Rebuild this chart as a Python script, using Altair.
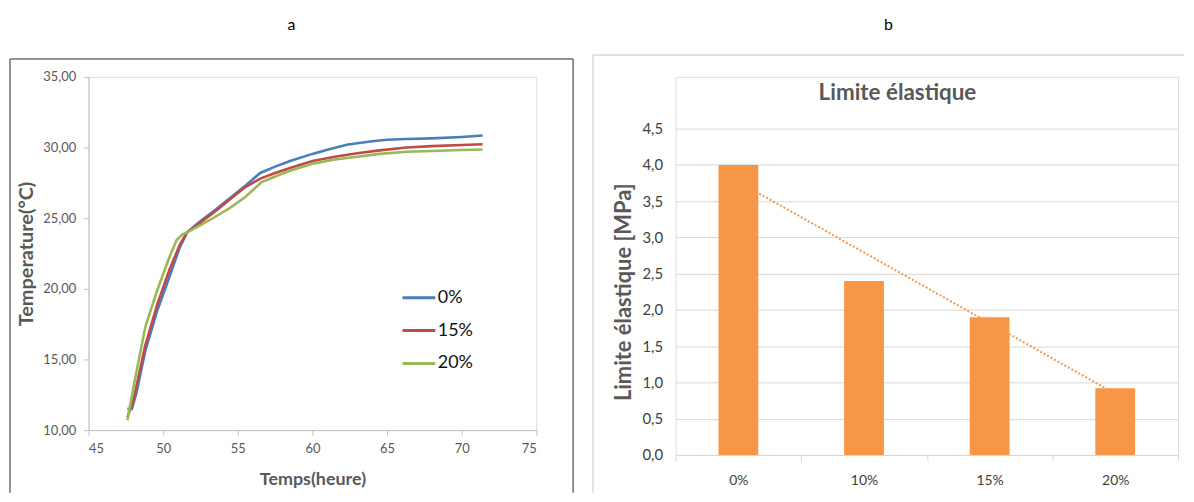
import altair as alt
import pandas as pd
import numpy as np

FONT = "Lato"

# ---------------- Panel a : temperature curves ----------------
t_0 = [47.6, 47.9, 48.2, 48.8, 49.6, 50.4, 51.1, 51.6, 52.5, 53.5, 54.5, 55.5, 56.5, 57.5, 58.5,
       60.0, 61.0, 62.3, 63.0, 64.0, 65.0, 66.3, 68.0, 70.0, 71.4]
T_0 = [11.5, 11.5, 12.6, 15.6, 18.45, 20.8, 22.9, 24.0, 24.8, 25.6, 26.45, 27.3, 28.2, 28.65, 29.05,
       29.55, 29.85, 30.2, 30.3, 30.45, 30.55, 30.6, 30.65, 30.75, 30.85]
t_15 = [47.6, 48.0, 48.8, 49.6, 50.4, 51.1, 51.6, 52.5, 53.5, 54.5, 55.5, 56.5, 57.5, 58.5, 60.0,
        61.5, 63.0, 64.5, 66.3, 68.0, 70.0, 71.4]
T_15 = [10.9, 12.1, 16.0, 18.9, 21.3, 23.1, 24.0, 24.7, 25.5, 26.35, 27.2, 27.8, 28.2, 28.55, 29.05,
        29.35, 29.6, 29.8, 30.0, 30.1, 30.18, 30.23]
t_20 = [47.6, 48.0, 48.8, 49.6, 50.4, 50.9, 51.3, 51.6, 52.5, 53.5, 54.5, 55.5, 56.6, 57.5, 58.5,
        60.0, 61.5, 63.0, 64.5, 66.3, 68.0, 70.0, 71.4]
T_20 = [10.7, 13.0, 17.3, 19.9, 22.2, 23.45, 23.85, 24.0, 24.5, 25.1, 25.75, 26.5, 27.55, 27.95, 28.35,
        28.85, 29.15, 29.35, 29.55, 29.7, 29.75, 29.82, 29.86]

series_names = ["0%", "15%", "20%"]
series_colors = ["#4A7EBB", "#BE4B48", "#98B954"]
x_ticks_a = [45, 50, 55, 60, 65, 70, 75]
y_ticks_a = [10, 15, 20, 25, 30, 35]

# ---------------- Panel b : bar chart ----------------
bar_categories = ["0%", "10%", "15%", "20%"]
bar_values = [4.0, 2.4, 1.9, 0.92]
y_ticks_b = [0.0, 0.5, 1.0, 1.5, 2.0, 2.5, 3.0, 3.5, 4.0, 4.5]

# ---------------- build tables ----------------
df_lines = pd.concat([
    pd.DataFrame({"t": t_0, "T": T_0, "serie": series_names[0]}),
    pd.DataFrame({"t": t_15, "T": T_15, "serie": series_names[1]}),
    pd.DataFrame({"t": t_20, "T": T_20, "serie": series_names[2]}),
], ignore_index=True)

df_bars = pd.DataFrame({"cat": bar_categories, "val": bar_values})
idx = np.arange(1, len(bar_values) + 1)
slope, intercept = np.polyfit(idx, bar_values, 1)
df_trend = pd.DataFrame({"cat": bar_categories, "val": slope * idx + intercept})

one = pd.DataFrame({"k": [0]})

W_A, H_A = 450, 355
W_B, H_B = 505, 380
TOP_B = 52  # pixel where 4.5 sits inside panel b

AXIS_GRAY = "#BFBFBF"
LABEL_GRAY = "#595959"
LIGHT = "#D9D9D9"

# ---- panel a ----
lines = alt.Chart(df_lines).mark_line(strokeWidth=2.6).encode(
    x=alt.X("t:Q",
            scale=alt.Scale(domain=[45, 75], nice=False, zero=False),
            axis=alt.Axis(values=x_ticks_a, title="Temps(heure)", grid=False,
                          domainColor=AXIS_GRAY, tickColor=AXIS_GRAY, tickSize=5,
                          labelColor=LABEL_GRAY, labelFontSize=13, labelFont=FONT, labelPadding=8,
                          titleFont=FONT, titleFontSize=18, titleFontWeight="bold",
                          titleColor=LABEL_GRAY, titlePadding=15)),
    y=alt.Y("T:Q",
            scale=alt.Scale(domain=[10, 35], nice=False, zero=False),
            axis=alt.Axis(values=y_ticks_a, title="Temperature(°C)", grid=False,
                          labelExpr="replace(format(datum.value, '.2f'), '.', ',')",
                          domainColor=AXIS_GRAY, tickColor=AXIS_GRAY, tickSize=5,
                          labelColor=LABEL_GRAY, labelFontSize=13, labelFont=FONT, labelPadding=8,
                          titleFont=FONT, titleFontSize=20, titleFontWeight="bold",
                          titleColor=LABEL_GRAY, titlePadding=6)),
    color=alt.Color("serie:N",
                    scale=alt.Scale(domain=series_names, range=series_colors),
                    legend=alt.Legend(orient="none", legendX=314, legendY=204, title=None,
                                      symbolType="stroke", symbolSize=1089, symbolStrokeWidth=3,
                                      labelFontSize=18, labelFont=FONT, labelColor="#111111",
                                      rowPadding=6, labelOffset=1, direction="vertical")),
)

FRAME_A = "#6E6E6E"
fa_left = alt.Chart(one).mark_rule(color=FRAME_A, strokeWidth=1.5).encode(
    x=alt.value(-79), y=alt.value(-18), y2=alt.value(418))
fa_top = alt.Chart(one).mark_rule(color=FRAME_A, strokeWidth=1.5).encode(
    x=alt.value(-79), x2=alt.value(487), y=alt.value(-18))
fa_right = alt.Chart(one).mark_rule(color=FRAME_A, strokeWidth=1.5).encode(
    x=alt.value(487), y=alt.value(-18), y2=alt.value(418))

panel_a = alt.layer(fa_left, fa_top, fa_right, lines).properties(
    width=W_A, height=H_A,
    title=alt.TitleParams("a", fontSize=16, fontWeight="normal", color="#000000", font=FONT,
                          anchor="middle", frame="bounds", offset=25),
)

# ---- panel b ----
BAR_COLOR = "#F79646"
y_b = alt.Y("val:Q",
            scale=alt.Scale(domain=[0, 4.5], range=[H_B, TOP_B], nice=False),
            axis=alt.Axis(values=y_ticks_b, title="Limite élastique [MPa]",
                          labelExpr="replace(format(datum.value, '.1f'), '.', ',')",
                          domain=False, ticks=False, tickSize=0,
                          grid=True, gridColor=LIGHT, gridWidth=1,
                          labelColor="#404040", labelFontSize=15, labelFont=FONT, labelPadding=13,
                          titleFont=FONT, titleFontSize=22, titleFontWeight="bold",
                          titleColor=LABEL_GRAY, titlePadding=7))
x_b = alt.X("cat:N", sort=bar_categories,
            scale=alt.Scale(paddingInner=0, paddingOuter=0),
            axis=alt.Axis(title=None, tickBand="extent", labelAngle=0, grid=False,
                          domainColor=LIGHT, tickColor=LIGHT, tickSize=6,
                          labelColor="#404040", labelFontSize=14, labelFont=FONT,
                          labelPadding=13))

trend = alt.Chart(df_trend).mark_line(color=BAR_COLOR, strokeWidth=2, strokeDash=[2, 2]).encode(
    x=x_b, y=y_b)
bars = alt.Chart(df_bars).mark_bar(color=BAR_COLOR, width=40).encode(x=x_b, y=y_b)

chart_title = alt.Chart(pd.DataFrame({"txt": ["Limite élastique"]})).mark_text(
    font=FONT, fontSize=22.5, fontWeight="bold", color=LABEL_GRAY, baseline="middle", align="center"
).encode(text="txt:N", x=alt.value(223), y=alt.value(16))

fb_left = alt.Chart(one).mark_rule(color=LIGHT, strokeWidth=1.5).encode(
    x=alt.value(-83), y=alt.value(-22), y2=alt.value(418))
fb_top = alt.Chart(one).mark_rule(color=LIGHT, strokeWidth=1.5).encode(
    x=alt.value(-83), x2=alt.value(511), y=alt.value(-22))

panel_b = alt.layer(fb_left, fb_top, trend, bars, chart_title).properties(
    width=W_B, height=H_B,
    title=alt.TitleParams("b", fontSize=16, fontWeight="normal", color="#000000", font=FONT,
                          anchor="middle", frame="bounds", offset=21),
)

chart = alt.hconcat(panel_a, panel_b, spacing=16).properties(
    padding={"left": 0, "top": 7, "right": 0, "bottom": 0}
).configure_view(strokeWidth=0, stroke="transparent").configure(background="white")

chart.save("out.html", embed_options={"renderer": "svg", "actions": False})
